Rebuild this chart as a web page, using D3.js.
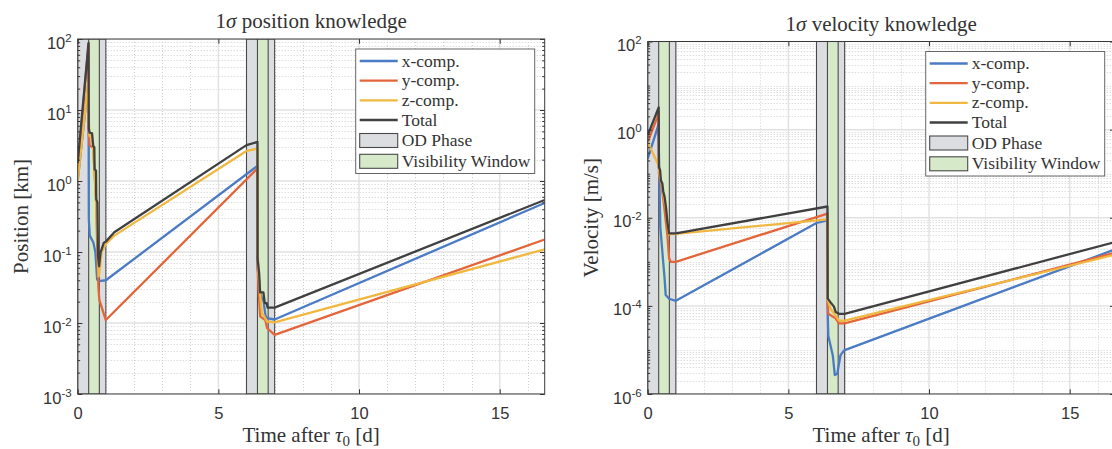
<!DOCTYPE html>
<html><head><meta charset="utf-8">
<script src="https://cdn.jsdelivr.net/npm/d3@7"></script>
<style>body{margin:0;background:#fff;} svg{display:block;}</style>
</head><body>
<svg id="c" width="1112" height="449"></svg>
<script>
// ---------------- data ----------------
const odPhases = [[0, 1.0], [6.0, 7.0]];
const visWindows = [[0.39, 0.77], [6.39, 6.77]];
const xDomain = [0, 16.6];
const xTicks = [0, 5, 10, 15];
const posTickExps = [-3, -2, -1, 0, 1, 2];
const velTickExps = [-6, -4, -2, 0, 2];
const legendLabels = ["x-comp.", "y-comp.", "z-comp.", "Total", "OD Phase", "Visibility Window"];

// position knowledge [km]  ([time d, value])
const posX = [[0,1.0],[0.385,26],[0.39,3.1],[0.395,0.29],[0.43,0.17],[0.56,0.135],[0.63,0.098],[0.69,0.041],[0.76,0.039],[1.0,0.040],
  [6.39,1.63],[6.395,0.06],[6.5,0.025],[6.61,0.02],[6.67,0.013],[6.73,0.0117],[7.0,0.0112],[16.6,0.49]];
const posY = [[0,1.45],[0.385,84],[0.39,5],[0.42,3.2],[0.55,2.9],[0.6,1.3],[0.66,0.45],[0.71,0.065],[0.74,0.03],[0.77,0.021],[1.0,0.011],
  [6.39,1.5],[6.395,0.062],[6.43,0.029],[6.49,0.0123],[6.67,0.011],[6.73,0.0085],[7.0,0.0068],[16.6,0.15]];
const posZ = [[0,1.0],[0.385,27],[0.39,8],[0.42,4.3],[0.51,4.2],[0.55,2.8],[0.6,1.3],[0.66,0.5],[0.72,0.08],[0.74,0.045],[0.77,0.05],[0.85,0.1],[1.0,0.13],[1.3,0.17],[6.0,2.65],
  [6.39,2.85],[6.395,0.107],[6.43,0.05],[6.49,0.024],[6.55,0.0136],[6.6,0.013],[6.73,0.0105],[7.0,0.0102],[16.6,0.109]];
const posTotal = [[0,1.8],[0.385,88],[0.395,5.5],[0.42,4.8],[0.51,4.7],[0.55,3.1],[0.59,3.0],[0.60,1.46],[0.65,1.4],[0.66,0.55],[0.70,0.5],[0.72,0.088],[0.76,0.063],[0.81,0.098],[0.93,0.135],[1.0,0.14],[1.3,0.19],[6.0,3.2],
  [6.39,3.55],[6.395,0.08],[6.45,0.05],[6.48,0.027],[6.6,0.027],[6.65,0.019],[6.72,0.019],[6.75,0.0165],[7.0,0.0165],[16.6,0.54]];

// velocity knowledge [m/s]
const velX = [[0,0.22],[0.34,1.05],[0.39,1.4],[0.40,0.19],[0.45,6e-3],[0.52,1.7e-3],[0.6,4.2e-4],[0.64,1.76e-4],[0.76,1.45e-4],[1.0,1.3e-4],[6.0,7.6e-3],
  [6.39,8.7e-3],[6.395,8.6e-5],[6.42,2.1e-5],[6.5,1.25e-5],[6.58,7.5e-6],[6.65,2.7e-6],[6.74,2.9e-6],[6.85,7.5e-6],[6.98,9.8e-6],[16.6,1.9e-3]];
const velY = [[0,0.52],[0.34,1.9],[0.39,2.6],[0.40,0.1],[0.5,0.05],[0.58,0.019],[0.70,4e-3],[0.76,1.2e-3],[0.82,1.0e-3],[1.0,1.0e-3],
  [6.39,0.0124],[6.395,1.2e-4],[6.42,6.6e-5],[6.68,5.2e-5],[6.8,4.0e-5],[7.0,4.0e-5],[16.6,1.6e-3]];
const velZ = [[0,0.52],[0.39,0.154],[0.44,0.08],[0.5,0.06],[0.58,0.028],[0.65,0.016],[0.70,7.5e-3],[0.76,4.2e-3],[1.0,4.3e-3],
  [6.39,9.2e-3],[6.395,1.4e-4],[6.5,8.6e-5],[6.68,6.0e-5],[6.8,4.6e-5],[7.0,4.6e-5],[16.6,1.45e-3]];
const velTotal = [[0,0.74],[0.39,3.2],[0.40,0.14],[0.44,0.12],[0.47,0.07],[0.52,0.06],[0.55,0.04],[0.6,0.03],[0.65,0.017],[0.7,0.008],[0.76,0.0044],[1.0,0.0044],
  [6.39,0.018],[6.40,1.46e-4],[6.5,1.2e-4],[6.62,9.6e-5],[6.68,7.3e-5],[6.8,6.6e-5],[7.0,6.6e-5],[16.6,2.8e-3]];

// ---------------- style ----------------
const seriesColors = ["#4a7bc4", "#e3653a", "#f0b840", "#404040"];
const odFill = "#dcdde0", visFill = "#d6e9c9", patchStroke = "#4a4a4a";
const textColor = "#333333";
const serif = "'Liberation Serif','Times New Roman',serif";
const sans = "'Liberation Sans',Arial,Helvetica,sans-serif";

const svg = d3.select("#c");
const defs = svg.append("defs");

function drawPanel(p) {
  const x = d3.scaleLinear().domain(xDomain).range([p.left, p.left + p.width]);
  const y = d3.scaleLog().domain(p.yDomain).range([p.bottom, p.top]);
  const g = svg.append("g");
  const clipId = "clip" + p.id;
  defs.append("clipPath").attr("id", clipId).append("rect")
    .attr("x", p.left).attr("y", p.top).attr("width", p.width).attr("height", p.bottom - p.top);
  const plot = g.append("g").attr("clip-path", `url(#${clipId})`);

  const e0 = Math.round(Math.log10(p.yDomain[0])), e1 = Math.round(Math.log10(p.yDomain[1]));
  const majorVals = p.tickExps.map(e => Math.pow(10, e));
  const minorVals = [];
  for (let e = e0; e < e1; e++) for (let m = 1; m < 10; m++) {
    if (m === 1 && p.tickExps.includes(e)) continue;
    minorVals.push(m * Math.pow(10, e));
  }
  const xMinor = d3.range(1, 17).filter(d => d % 5 !== 0);

  // minor grid
  plot.selectAll(".mgy").data(minorVals).enter().append("line")
    .attr("x1", p.left).attr("x2", p.left + p.width)
    .attr("y1", d => Math.round(y(d)) + 0.5).attr("y2", d => Math.round(y(d)) + 0.5)
    .attr("stroke", "#cfcfcf").attr("stroke-width", 1).attr("stroke-dasharray", "1,2");
  plot.selectAll(".mgx").data(xMinor).enter().append("line")
    .attr("y1", p.top).attr("y2", p.bottom)
    .attr("x1", d => Math.round(x(d)) + 0.5).attr("x2", d => Math.round(x(d)) + 0.5)
    .attr("stroke", "#cfcfcf").attr("stroke-width", 1).attr("stroke-dasharray", "1,2");
  // major grid
  plot.selectAll(".gy").data(majorVals).enter().append("line")
    .attr("x1", p.left).attr("x2", p.left + p.width)
    .attr("y1", d => y(d)).attr("y2", d => y(d))
    .attr("stroke", "#e2e2e2").attr("stroke-width", 1.5);
  plot.selectAll(".gx").data(xTicks.filter(d => d > 0)).enter().append("line")
    .attr("y1", p.top).attr("y2", p.bottom)
    .attr("x1", d => x(d)).attr("x2", d => x(d))
    .attr("stroke", "#e2e2e2").attr("stroke-width", 1.5);

  // patches
  plot.selectAll(".od").data(odPhases).enter().append("rect")
    .attr("x", d => x(d[0])).attr("width", d => x(d[1]) - x(d[0]))
    .attr("y", p.top).attr("height", p.bottom - p.top)
    .attr("fill", odFill).attr("stroke", patchStroke).attr("stroke-width", 1.1);
  plot.selectAll(".vis").data(visWindows).enter().append("rect")
    .attr("x", d => x(d[0])).attr("width", d => x(d[1]) - x(d[0]))
    .attr("y", p.top).attr("height", p.bottom - p.top)
    .attr("fill", visFill).attr("stroke", patchStroke).attr("stroke-width", 1.1);

  // lines
  const line = d3.line().x(d => x(d[0])).y(d => y(d[1]));
  p.series.forEach((s, i) => {
    plot.append("path").datum(s).attr("d", line)
      .attr("fill", "none").attr("stroke", seriesColors[i]).attr("stroke-width", 2.3)
      .attr("stroke-linejoin", "round");
  });

  // axes
  const bottomAx = g.append("g").attr("transform", `translate(0,${p.bottom})`)
    .call(d3.axisBottom(x).tickValues(xTicks).tickSize(-4.7).tickSizeOuter(0).tickPadding(13.7));
  const topAx = g.append("g").attr("transform", `translate(0,${p.top})`)
    .call(d3.axisTop(x).tickValues(xTicks).tickSize(-4.7).tickSizeOuter(0).tickFormat(""));
  const leftAx = g.append("g").attr("transform", `translate(${p.left},0)`)
    .call(d3.axisLeft(y).tickValues(majorVals).tickSize(-4.7).tickSizeOuter(0).tickPadding(6).tickFormat(d => d));
  const leftMin = g.append("g").attr("transform", `translate(${p.left},0)`)
    .call(d3.axisLeft(y).tickValues(minorVals).tickSize(-2.5).tickSizeOuter(0).tickFormat(""));
  const rightAx = g.append("g").attr("transform", `translate(${p.left + p.width},0)`)
    .call(d3.axisRight(y).tickValues(majorVals).tickSize(-4.7).tickSizeOuter(0).tickFormat(""));
  const rightMin = g.append("g").attr("transform", `translate(${p.left + p.width},0)`)
    .call(d3.axisRight(y).tickValues(minorVals).tickSize(-2.5).tickSizeOuter(0).tickFormat(""));
  [bottomAx, topAx, leftAx, leftMin, rightAx, rightMin].forEach(a => {
    a.select(".domain").remove();
    a.style("color", "#333").attr("font-family", sans).attr("font-size", 16.5);
    a.selectAll(".tick line").attr("stroke-width", 1);
  });
  bottomAx.selectAll(".tick text").attr("fill", textColor);
  leftAx.selectAll(".tick text").each(function (d) {
    const e = Math.round(Math.log10(d));
    const t = d3.select(this).text(null).attr("dy", "0.55em").attr("fill", textColor);
    t.append("tspan").text("10");
    t.append("tspan").attr("dy", -7).attr("font-size", 11.5).text(String(e));
  });
  // box
  g.append("rect").attr("x", p.left).attr("y", p.top).attr("width", p.width).attr("height", p.bottom - p.top)
    .attr("fill", "none").attr("stroke", "#3a3a3a").attr("stroke-width", 1);

  // title
  const cx = p.left + p.width / 2;
  const tt = g.append("text").attr("x", cx).attr("y", p.titleY).attr("text-anchor", "middle")
    .attr("font-family", serif).attr("font-size", 21).attr("fill", textColor);
  tt.append("tspan").text("1");
  tt.append("tspan").attr("font-style", "italic").text("σ");
  tt.append("tspan").text(" " + p.title);
  // x label
  const xl = g.append("text").attr("x", cx).attr("y", 441.7).attr("text-anchor", "middle")
    .attr("font-family", serif).attr("font-size", 21).attr("fill", textColor);
  xl.append("tspan").text("Time after ");
  xl.append("tspan").attr("font-style", "italic").text("τ");
  xl.append("tspan").attr("font-size", 15).attr("dy", 4).text("0");
  xl.append("tspan").attr("dy", -4).text(" [d]");
  // y label
  g.append("text").attr("transform", `translate(${p.left - 49.5},${(p.top + p.bottom) / 2}) rotate(-90)`)
    .attr("text-anchor", "middle").attr("font-family", serif).attr("font-size", 21).attr("fill", textColor)
    .text(p.ylabel);

  // legend
  const lx = p.left + p.width - 10 - 179, ly = p.top + 10;
  const lg = g.append("g");
  lg.append("rect").attr("x", lx).attr("y", ly).attr("width", 179).attr("height", 124.5)
    .attr("fill", "#fff").attr("stroke", "#666").attr("stroke-width", 1);
  const rowY = [12, 31.7, 51.3, 71, 91.5, 112.3];
  legendLabels.forEach((lab, i) => {
    const yy = ly + rowY[i];
    if (i < 4) {
      lg.append("line").attr("x1", lx + 4).attr("x2", lx + 42).attr("y1", yy).attr("y2", yy)
        .attr("stroke", seriesColors[i]).attr("stroke-width", 2.3);
    } else {
      lg.append("rect").attr("x", lx + 4).attr("y", yy - 7).attr("width", 38).attr("height", 14)
        .attr("fill", i === 4 ? odFill : visFill).attr("stroke", patchStroke).attr("stroke-width", 1.1);
    }
    lg.append("text").attr("x", lx + 46).attr("y", yy + 5.5).attr("font-family", serif)
      .attr("font-size", 17.5).attr("fill", textColor).text(lab);
  });
}

drawPanel({id: "p", left: 77.7, width: 467, top: 39, bottom: 394, yDomain: [1e-3, 1e2], tickExps: posTickExps,
  series: [posX, posY, posZ, posTotal], title: "position knowledge", ylabel: "Position [km]", titleY: 28.3});
drawPanel({id: "v", left: 647.7, width: 467, top: 41.5, bottom: 394, yDomain: [1e-6, 1e2], tickExps: velTickExps,
  series: [velX, velY, velZ, velTotal], title: "velocity knowledge", ylabel: "Velocity [m/s]", titleY: 31});
</script>
</body></html>
